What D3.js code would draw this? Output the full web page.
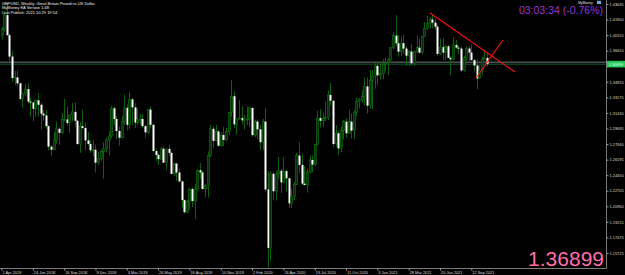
<!DOCTYPE html>
<html>
<head>
<meta charset="utf-8">
<script src="https://cdn.jsdelivr.net/npm/d3@7"></script>
<style>
  body { margin: 0; background: #000; }
  text { font-family: "Liberation Sans", Arial, sans-serif; }
</style>
</head>
<body>
<div id="chart"></div>
<script>
// GBPUSD weekly, 1 Apr 2018 .. 25 Oct 2021 (one entry per week)
const opens = [
  1.4015,1.4085,1.4240,1.4015,1.3775,1.3535,1.3540,1.3475,1.3300,1.3355,1.3410,1.3270,1.3260,1.3190,1.3285,1.3235,1.3135,1.3115,1.2995,1.2765,
  1.2730,1.2840,1.2965,1.2920,1.3070,1.3070,1.3030,1.3120,1.3155,1.3055,1.2795,1.2995,1.2975,1.2835,1.2795,1.2725,1.2730,1.2585,1.2630,1.2710,
  1.2740,1.2840,1.2885,1.3195,1.3075,1.2940,1.2865,1.3045,1.3200,1.3010,1.3295,1.3205,1.3035,1.3065,1.3075,1.2995,1.2925,1.3180,1.3010,1.2715,
  1.2670,1.2625,1.2740,1.2585,1.2740,1.2695,1.2460,1.2575,1.2475,1.2375,1.2165,1.2030,1.2150,1.2290,1.2155,1.2290,1.2500,1.2475,1.2290,1.2330,
  1.2665,1.2965,1.2830,1.2935,1.2775,1.2895,1.2840,1.2935,1.3150,1.3330,1.3015,1.3075,1.3085,1.3060,1.3075,1.3075,1.3200,1.2895,1.3045,1.2960,
  1.2815,1.3045,1.2285,1.1630,1.2460,1.2265,1.2460,1.2495,1.2365,1.2490,1.2410,1.2130,1.2205,1.2340,1.2665,1.2560,1.2350,1.2335,1.2480,1.2615,
  1.2565,1.2790,1.3085,1.3055,1.3085,1.3090,1.3345,1.3280,1.2795,1.2915,1.2745,1.2945,1.3045,1.2915,1.3045,1.2945,1.3150,1.3270,1.3290,1.3325,
  1.3440,1.3225,1.3510,1.3555,1.3670,1.3565,1.3585,1.3690,1.3705,1.3735,1.3875,1.4010,1.3925,1.3830,1.3925,1.3865,1.3785,1.3830,1.3700,1.3835,
  1.3875,1.3820,1.4000,1.4090,1.4150,1.4190,1.4155,1.4110,1.3805,1.3880,1.3820,1.3890,1.3760,1.3745,1.3905,1.3875,1.3865,1.3620,1.3760,1.3865,
  1.3820,1.3735,1.3675,1.3530,1.3615,1.3745,1.3760
];
const highs = [
  1.4110,1.4290,1.4377,1.4030,1.3845,1.3615,1.3620,1.3485,1.3370,1.3470,1.3475,1.3315,1.3265,1.3295,1.3365,1.3260,1.3175,1.3175,1.3000,1.2780,
  1.2930,1.3045,1.2985,1.3140,1.3300,1.3215,1.3125,1.3255,1.3260,1.3065,1.3040,1.3175,1.3030,1.2930,1.2835,1.2840,1.2790,1.2705,1.2730,1.2815,
  1.2865,1.2935,1.3220,1.3215,1.3110,1.2990,1.3110,1.3350,1.3240,1.3380,1.3310,1.3250,1.3195,1.3130,1.3130,1.3010,1.3180,1.3215,1.3015,1.2745,
  1.2690,1.2765,1.2765,1.2745,1.2785,1.2710,1.2580,1.2580,1.2520,1.2385,1.2175,1.2170,1.2300,1.2310,1.2350,1.2510,1.2580,1.2495,1.2350,1.2710,
  1.3010,1.2990,1.3010,1.2950,1.2925,1.2985,1.2975,1.3155,1.3515,1.3385,1.3085,1.3285,1.3215,1.3120,1.3210,1.3210,1.3205,1.3070,1.3070,1.3010,
  1.3075,1.3200,1.2485,1.2485,1.2485,1.2485,1.2650,1.2515,1.2645,1.2510,1.2410,1.2295,1.2370,1.2695,1.2815,1.2685,1.2545,1.2520,1.2670,1.2665,
  1.2800,1.3170,1.3185,1.3145,1.3265,1.3395,1.3480,1.3285,1.3005,1.2940,1.2990,1.3065,1.3085,1.3175,1.3140,1.3175,1.3315,1.3310,1.3400,1.3540,
  1.3540,1.3625,1.3625,1.3700,1.3705,1.3710,1.3745,1.3760,1.3760,1.3865,1.4050,1.4241,1.4015,1.4000,1.4020,1.3890,1.3850,1.3920,1.3840,1.4010,
  1.3975,1.4005,1.4165,1.4235,1.4220,1.4250,1.4200,1.4135,1.3975,1.3985,1.3910,1.3910,1.3785,1.3985,1.3960,1.3895,1.3890,1.3785,1.3890,1.3890,
  1.3910,1.3750,1.3740,1.3675,1.3775,1.3835,1.3825
];
const lows = [
  1.3965,1.4055,1.4010,1.3710,1.3490,1.3460,1.3445,1.3285,1.3205,1.3325,1.3250,1.3100,1.3050,1.3100,1.3100,1.2960,1.3055,1.2965,1.2725,1.2662,
  1.2725,1.2800,1.2785,1.2905,1.3045,1.3000,1.2920,1.3055,1.2990,1.2780,1.2695,1.2960,1.2725,1.2775,1.2695,1.2660,1.2475,1.2560,1.2605,1.2405,
  1.2700,1.2670,1.2865,1.3005,1.2850,1.2775,1.2855,1.3010,1.2945,1.2960,1.3005,1.2975,1.3010,1.3010,1.2975,1.2865,1.2905,1.2970,1.2715,1.2605,
  1.2560,1.2615,1.2585,1.2505,1.2655,1.2455,1.2440,1.2380,1.2365,1.2080,1.2015,1.2020,1.2060,1.2085,1.1960,1.2270,1.2405,1.2285,1.2195,1.2195,
  1.2645,1.2750,1.2825,1.2765,1.2765,1.2770,1.2825,1.2895,1.3100,1.2975,1.2905,1.3070,1.3015,1.2955,1.3010,1.2985,1.2875,1.2870,1.2850,1.2725,
  1.2725,1.2260,1.1409,1.1480,1.2165,1.2160,1.2410,1.2245,1.2355,1.2265,1.2075,1.2075,1.2165,1.2335,1.2470,1.2335,1.2330,1.2250,1.2465,1.2480,
  1.2545,1.2780,1.2980,1.2985,1.3050,1.3060,1.3225,1.2760,1.2765,1.2675,1.2705,1.2845,1.2865,1.2915,1.2855,1.2855,1.3105,1.3195,1.3255,1.3225,
  1.3135,1.3190,1.3190,1.3415,1.3450,1.3520,1.3520,1.3610,1.3565,1.3720,1.3855,1.3895,1.3775,1.3780,1.3805,1.3670,1.3670,1.3670,1.3670,1.3815,
  1.3805,1.3800,1.3995,1.4075,1.4090,1.4090,1.4075,1.3785,1.3790,1.3735,1.3735,1.3760,1.3570,1.3735,1.3860,1.3805,1.3600,1.3605,1.3725,1.3725,
  1.3735,1.3610,1.3410,1.3525,1.3570,1.3735,1.3665
];
const closes = [
  1.4085,1.4240,1.4015,1.3775,1.3535,1.3540,1.3475,1.3300,1.3355,1.3410,1.3270,1.3260,1.3190,1.3285,1.3235,1.3135,1.3115,1.2995,1.2765,1.2730,
  1.2840,1.2965,1.2920,1.3070,1.3070,1.3030,1.3120,1.3155,1.3055,1.2795,1.2995,1.2975,1.2835,1.2795,1.2725,1.2730,1.2585,1.2630,1.2710,1.2740,
  1.2840,1.2885,1.3195,1.3075,1.2940,1.2865,1.3045,1.3200,1.3010,1.3295,1.3205,1.3035,1.3065,1.3075,1.2995,1.2925,1.3180,1.3010,1.2715,1.2670,
  1.2625,1.2740,1.2585,1.2740,1.2695,1.2460,1.2575,1.2475,1.2375,1.2165,1.2030,1.2150,1.2290,1.2155,1.2290,1.2500,1.2475,1.2290,1.2330,1.2665,
  1.2965,1.2830,1.2935,1.2775,1.2895,1.2840,1.2935,1.3150,1.3330,1.3015,1.3075,1.3085,1.3060,1.3075,1.3075,1.3200,1.2895,1.3045,1.2960,1.2815,
  1.3045,1.2285,1.1630,1.2460,1.2265,1.2460,1.2495,1.2365,1.2490,1.2410,1.2130,1.2205,1.2340,1.2665,1.2560,1.2350,1.2335,1.2480,1.2615,1.2565,
  1.2790,1.3085,1.3055,1.3085,1.3090,1.3345,1.3280,1.2795,1.2915,1.2745,1.2945,1.3045,1.2915,1.3045,1.2945,1.3150,1.3270,1.3290,1.3325,1.3440,
  1.3225,1.3510,1.3555,1.3670,1.3565,1.3585,1.3690,1.3705,1.3735,1.3875,1.4010,1.3925,1.3830,1.3925,1.3865,1.3785,1.3830,1.3700,1.3835,1.3875,
  1.3820,1.4000,1.4090,1.4150,1.4190,1.4155,1.4110,1.3805,1.3880,1.3820,1.3890,1.3760,1.3745,1.3905,1.3875,1.3865,1.3620,1.3760,1.3865,1.3820,
  1.3735,1.3675,1.3530,1.3615,1.3745,1.3760,1.3690
];

// bottom axis: label every 12 weeks
const dateLabels = ["1 Apr 2018","24 Jun 2018","16 Sep 2018","9 Dec 2018","3 Mar 2019","26 May 2019",
  "18 Aug 2019","10 Nov 2019","2 Feb 2020","26 Apr 2020","19 Jul 2020","11 Oct 2020",
  "3 Jan 2021","28 Mar 2021","20 Jun 2021","12 Sep 2021"];
const dateWeeks = [0,12,24,36,48,60,72,84,96,108,120,132,144,156,168,180];

// right axis labels (1.36665 sits under the price box and is not shown)
const priceLabels = ["1.15725","1.17470","1.19215","1.20960","1.22705","1.24450","1.26195","1.27940",
  "1.29685","1.31430","1.33175","1.34920","1.38410","1.40155","1.41900","1.43645"];

const lastPrice = 1.36899;
const greyLevel = 1.3712;

// drawn trendlines: [week index, price]
const trendA = [[164.2, 1.4264], [196.7, 1.3602]];
const trendB = [[181.8, 1.3535], [192.1, 1.3961]];

const headerLines = ["GBPUSD, Weekly:  Great Britain Pound vs US Dollar",
  "MyMoney EA Version 1.68", "Last Publish: 2021.10.29 19:54"];

const width = 625;
const height = 275;
const plotRight = 606;
const plotBottom = 268;

const x = d3.scaleLinear().domain([0, 186]).range([1.5, 487]);
const y = d3.scaleLinear().domain([1.1404, 1.44094]).range([plotBottom, 0]);

const svg = d3.select("#chart").append("svg")
  .attr("width", width).attr("height", height)
  .style("display", "block").style("background", "#000");

svg.append("clipPath").attr("id", "plot")
  .append("rect").attr("x", 0).attr("y", 0).attr("width", plotRight).attr("height", plotBottom);

const plot = svg.append("g").attr("clip-path", "url(#plot)");

// price level lines
plot.append("line")
  .attr("x1", 0).attr("x2", plotRight)
  .attr("y1", y(greyLevel)).attr("y2", y(greyLevel))
  .attr("stroke", "#747474").attr("stroke-width", 1);
plot.append("line")
  .attr("x1", 0).attr("x2", plotRight)
  .attr("y1", y(lastPrice)).attr("y2", y(lastPrice))
  .attr("stroke", "#0f5a2c").attr("stroke-width", 1);

const idx = d3.range(closes.length);

// wicks
plot.selectAll("line.wick").data(idx).enter().append("line")
  .attr("class", "wick")
  .attr("x1", (i) => Math.round(x(i)) + 0.5)
  .attr("x2", (i) => Math.round(x(i)) + 0.5)
  .attr("y1", (i) => y(highs[i]))
  .attr("y2", (i) => y(lows[i]))
  .attr("stroke", "#0d600d").attr("stroke-width", 1);

// bodies: bear = white, bull = black with green edge
plot.selectAll("rect.body").data(idx).enter().append("rect")
  .attr("class", "body")
  .attr("x", (i) => Math.round(x(i)) - 0.5)
  .attr("width", 2)
  .attr("y", (i) => y(Math.max(opens[i], closes[i])))
  .attr("height", (i) => Math.max(1, Math.abs(y(opens[i]) - y(closes[i]))))
  .attr("fill", (i) => closes[i] < opens[i] ? "#ffffff" : "#072f07")
  .attr("stroke", (i) => closes[i] < opens[i] ? "none" : "#137313")
  .attr("stroke-width", 0.6);

// trendlines
const tl = d3.line().x((d) => x(d[0])).y((d) => y(d[1]));
[trendA, trendB].forEach((t) => {
  plot.append("path").attr("d", tl(t))
    .attr("fill", "none").attr("stroke", "#ff1010").attr("stroke-width", 1.1);
});

// borders
svg.append("line").attr("x1", 0).attr("x2", plotRight + 0.5)
  .attr("y1", plotBottom + 0.5).attr("y2", plotBottom + 0.5)
  .attr("stroke", "#7a7a7a");
svg.append("line").attr("x1", plotRight + 0.5).attr("x2", plotRight + 0.5)
  .attr("y1", 0).attr("y2", plotBottom + 0.5)
  .attr("stroke", "#7a7a7a");

// right axis
const yAxis = d3.axisRight(y)
  .tickValues(priceLabels.map(Number))
  .tickFormat((d, i) => priceLabels[i])
  .tickSize(2).tickPadding(1);
const gy = svg.append("g").attr("transform", "translate(" + (plotRight + 0.5) + ",0)").call(yAxis);
gy.select(".domain").remove();
gy.selectAll("line").attr("stroke", "#9a9a9a");
gy.selectAll("text").attr("fill", "#d8d8d8").style("font-size", "3.9px")
  .style("font-family", "'Liberation Sans', Arial, sans-serif");

// bottom axis
const xAxis = d3.axisBottom(x)
  .tickValues(dateWeeks)
  .tickFormat((d, i) => dateLabels[i])
  .tickSize(2).tickPadding(1);
const gx = svg.append("g").attr("transform", "translate(0," + (plotBottom + 0.5) + ")").call(xAxis);
gx.select(".domain").remove();
gx.selectAll("line").attr("stroke", "#9a9a9a");
gx.selectAll("text").attr("fill", "#d8d8d8").attr("text-anchor", "start")
  .attr("dx", "0.5").style("font-size", "3.9px")
  .style("font-family", "'Liberation Sans', Arial, sans-serif");

// current price box on the axis
const py = y(lastPrice);
svg.append("rect").attr("x", plotRight + 1).attr("y", py - 3.3)
  .attr("width", 18).attr("height", 6.6).attr("fill", "#22c95a");
svg.append("text").attr("x", plotRight + 2.5).attr("y", py + 1.5)
  .attr("fill", "#e6ffe9").style("font-size", "4px").text(lastPrice.toFixed(5));

// header
svg.selectAll("text.head").data(headerLines).enter().append("text")
  .attr("class", "head")
  .attr("x", 2).attr("y", (d, i) => 5 + i * 4.4)
  .attr("fill", "#f0f0f0").style("font-size", "4px")
  .text((d) => d);

// top-right clock / change
svg.append("text").attr("x", 578).attr("y", 3.8)
  .attr("fill", "#e0e0e0").style("font-size", "3.4px").text("MyMoney");
svg.append("rect").attr("x", 597).attr("y", 0.8).attr("width", 4).attr("height", 3.2)
  .attr("fill", "#6fa8dc");
svg.append("text").attr("x", 603).attr("y", 13.8).attr("text-anchor", "end")
  .attr("fill", "#9b35d6").style("font-size", "10.5px").text("03:03:34 (-0.76%)");

// big last price
svg.append("text").attr("x", 604).attr("y", 266).attr("text-anchor", "end")
  .attr("fill", "#ff6fae").style("font-size", "21px").text(lastPrice.toFixed(5));
</script>
</body>
</html>
